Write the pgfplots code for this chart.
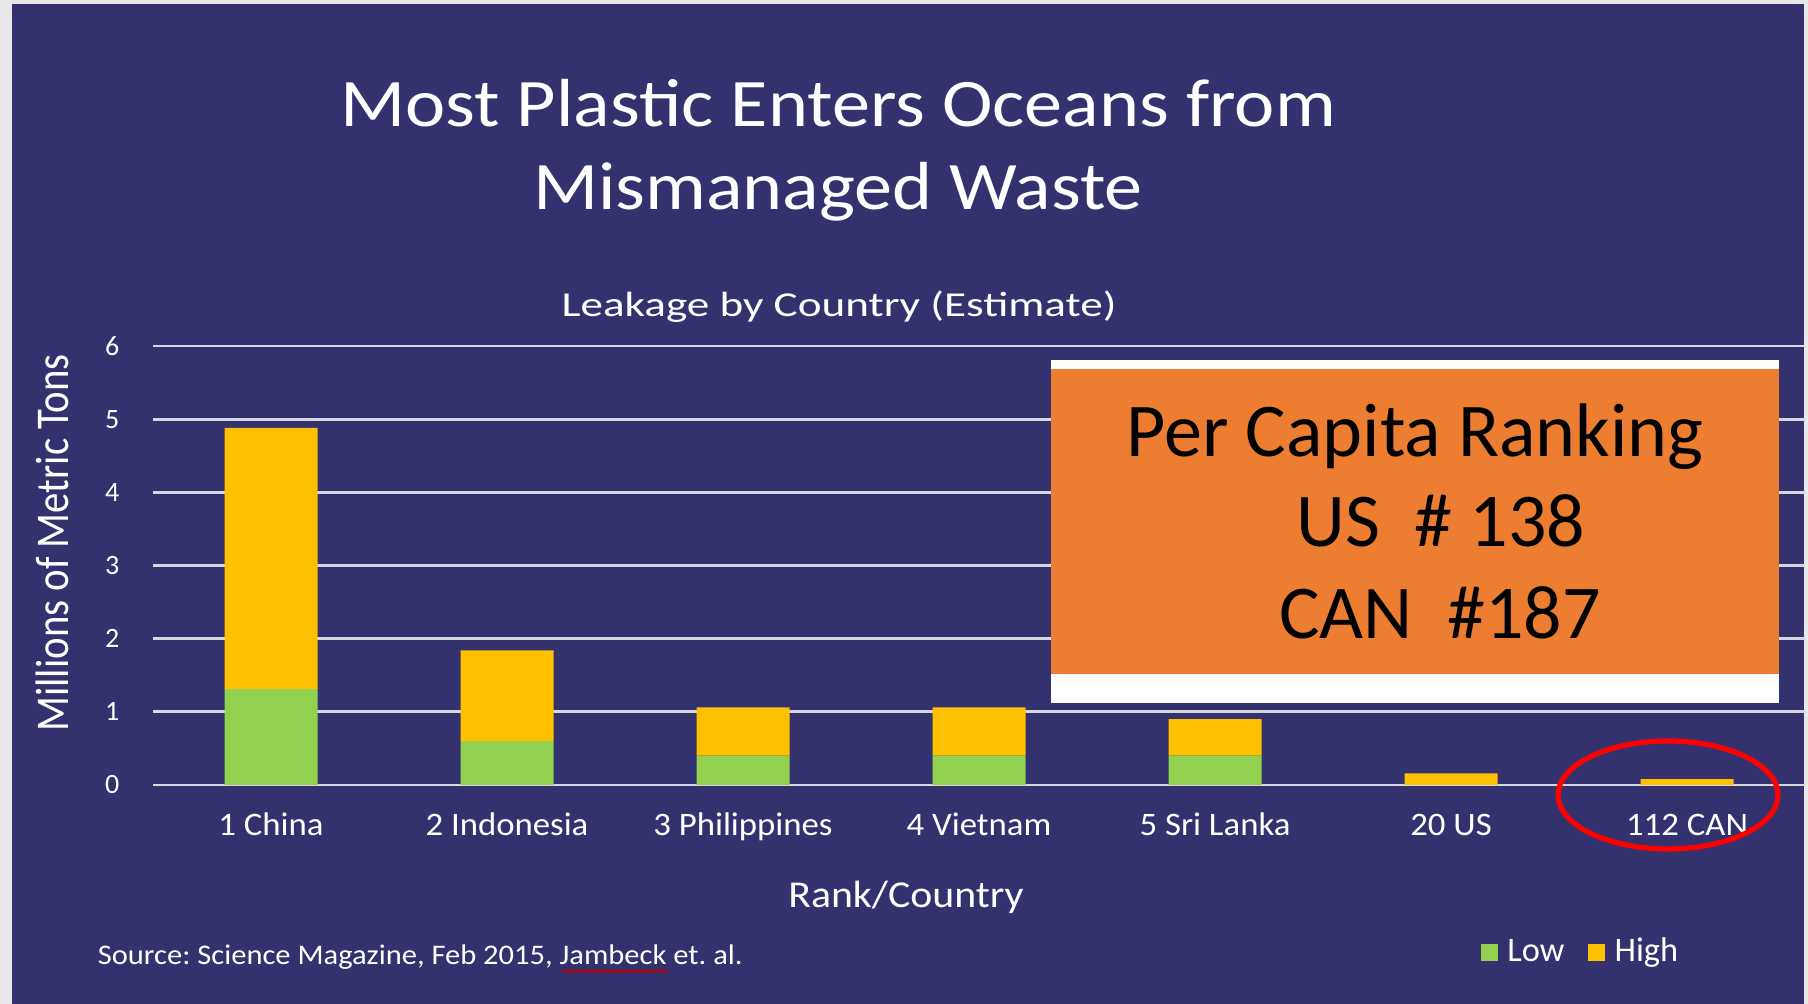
\documentclass[border=0pt]{standalone}
\usepackage{fontspec}
\setmainfont{Carlito}
\usepackage{pgfplots}
\pgfplotsset{compat=1.18}
\usetikzlibrary{decorations.pathmorphing}
\frenchspacing

\definecolor{navy}{RGB}{51,50,110}
\definecolor{edgegray}{RGB}{232,232,236}
\definecolor{gridgray}{RGB}{214,214,220}
\definecolor{lowgreen}{RGB}{146,208,80}
\definecolor{highyellow}{RGB}{255,192,0}
\definecolor{boxorange}{RGB}{237,125,49}

\begin{document}
\begin{tikzpicture}
% slide background (1 px of the reference = 0.25pt)
\fill[edgegray] (0pt,0pt) rectangle (452pt,251pt);
\fill[navy] (3pt,0pt) rectangle (451pt,250pt);
\useasboundingbox (0pt,0pt) rectangle (452pt,251pt);

\begin{axis}[
    at={(38.25pt,54.75pt)}, anchor=south west,
    scale only axis, width=413pt, height=109.75pt,
    xmin=-0.5, xmax=6.5, ymin=0, ymax=6,
    ybar stacked, bar width=23.25pt,
    xtick={0,...,6},
    xticklabels={1 China, 2 Indonesia, 3 Philippines, 4 Vietnam, 5 Sri Lanka, 20 US, 112 CAN},
    ytick={0,...,6},
    ymajorgrids=true,
    grid style={draw=gridgray, line width=0.7pt},
    axis line style={draw=none},
    major tick length=0pt, tick style={draw=none},
    tick label style={text=white},
    /pgf/number format/assume math mode=true,
    yticklabel style={font=\fontsize{7}{8}\selectfont, anchor=east, inner sep=0pt, xshift=-8.25pt},
    xticklabel style={font=\fontsize{8.2}{9}\selectfont, anchor=base, inner sep=0pt, yshift=-12.6pt, xscale=1.06},
    legend style={at={(0.8035,-0.3827)}, anchor=west, draw=none, fill=none,
        text=white, font=\fontsize{8.6}{9}\selectfont, legend columns=-1,
        inner sep=0pt, nodes={inner sep=2.3pt},
        /tikz/every even column/.append style={column sep=3.7pt}},
    legend image code/.code={\fill[#1] (0pt,-2.125pt) rectangle (4.25pt,2.125pt);},
]
%% low estimate
\addplot[fill=lowgreen, draw=none]
    coordinates {(0,1.31)(1,0.60)(2,0.40)(3,0.40)(4,0.40)(5,0)(6,0)};
%% high estimate (stacked on top of low)
\addplot[fill=highyellow, draw=none]
    coordinates {(0,3.57)(1,1.24)(2,0.66)(3,0.66)(4,0.50)(5,0.16)(6,0.08)};
\legend{Low, High}
\end{axis}

\begin{scope}[x=0.25pt, y=-0.25pt, shift={(0pt,251pt)}]
% titles
\node[anchor=base, text=white, font=\fontsize{17}{20}\selectfont, xscale=1.12] at (838,127) {Most Plastic Enters Oceans from};
\node[anchor=base, text=white, font=\fontsize{17}{20}\selectfont, xscale=1.12] at (838,210) {Mismanaged Waste};
\node[anchor=base, text=white, font=\fontsize{8.75}{10}\selectfont, xscale=1.29] at (839,317) {Leakage by Country (Estimate)};
% axis titles
\node[text=white, font=\fontsize{10.2}{12}\selectfont, rotate=90, yscale=1.15] at (52,543) {Millions of Metric Tons};
\node[anchor=base, text=white, font=\fontsize{9.5}{11}\selectfont, xscale=1.1] at (906,908) {Rank/Country};
% per capita box
\fill[white] (1051,360) rectangle (1779,703);
\fill[boxorange] (1051,369) rectangle (1779,674);
\node[anchor=base, font=\fontsize{19}{22}\selectfont] at (1415,457) {Per Capita Ranking};
\node[anchor=base, font=\fontsize{19}{22}\selectfont] at (1441,547) {US~~\# 138};
\node[anchor=base, font=\fontsize{19}{22}\selectfont] at (1440,639) {CAN~~\#187};
% red circle round Canada
\draw[red, line width=1.3pt] (1668,795) ellipse [x radius=27.5pt, y radius=13.5pt];
% source
\node[anchor=base west, inner sep=0pt, text=white, font=\fontsize{7.1}{8.5}\selectfont, xscale=1.075] at (97,965) {Source: Science Magazine, Feb 2015, Jambeck et. al.};
\draw[red!75!black, line width=0.35pt, decorate, decoration={snake, amplitude=0.35pt, segment length=1.3pt}] (562,971) -- (669,971);
\end{scope}
\end{tikzpicture}
\end{document}
